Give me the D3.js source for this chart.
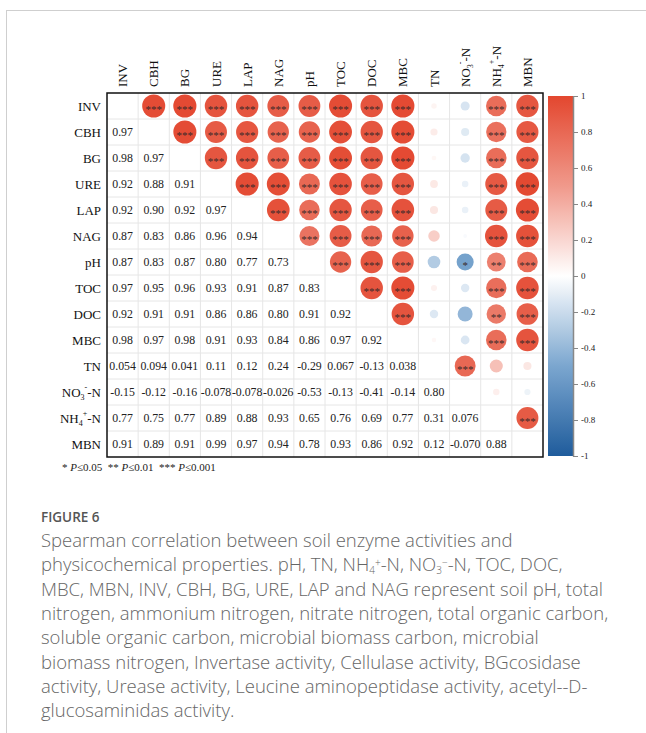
<!DOCTYPE html>
<html>
<head>
<meta charset="utf-8">
<script src="https://cdn.jsdelivr.net/npm/d3@7"></script>
<style>
  body { margin: 0; background: #fff; }
  svg { display: block; }
</style>
</head>
<body>
<svg id="chart" width="646" height="733"></svg>
<script>
// variable names (rows and columns of the matrix)
const vars = ["INV", "CBH", "BG", "URE", "LAP", "NAG", "pH", "TOC", "DOC", "MBC", "TN", "NO3-N", "NH4-N", "MBN"];

// lower triangle of the Spearman matrix, row i holds columns 0..i-1
const rhoRows = [
    [],
    [0.97],
    [0.98, 0.97],
    [0.92, 0.88, 0.91],
    [0.92, 0.90, 0.92, 0.97],
    [0.87, 0.83, 0.86, 0.96, 0.94],
    [0.87, 0.83, 0.87, 0.80, 0.77, 0.73],
    [0.97, 0.95, 0.96, 0.93, 0.91, 0.87, 0.83],
    [0.92, 0.91, 0.91, 0.86, 0.86, 0.80, 0.91, 0.92],
    [0.98, 0.97, 0.98, 0.91, 0.93, 0.84, 0.86, 0.97, 0.92],
    [0.054, 0.094, 0.041, 0.11, 0.12, 0.24, -0.29, 0.067, -0.13, 0.038],
    [-0.15, -0.12, -0.16, -0.078, -0.078, -0.026, -0.53, -0.13, -0.41, -0.14, 0.80],
    [0.77, 0.75, 0.77, 0.89, 0.88, 0.93, 0.65, 0.76, 0.69, 0.77, 0.31, 0.076],
    [0.91, 0.89, 0.91, 0.99, 0.97, 0.94, 0.78, 0.93, 0.86, 0.92, 0.12, -0.070, 0.88]
];

// significance marks, same shape as rhoRows (drawn in the upper triangle)
const sigRows = [
    [],
    ["***"],
    ["***", "***"],
    ["***", "***", "***"],
    ["***", "***", "***", "***"],
    ["***", "***", "***", "***", "***"],
    ["***", "***", "***", "***", "***", "***"],
    ["***", "***", "***", "***", "***", "***", "***"],
    ["***", "***", "***", "***", "***", "***", "***", "***"],
    ["***", "***", "***", "***", "***", "***", "***", "***", "***"],
    ["", "", "", "", "", "", "", "", "", ""],
    ["", "", "", "", "", "", "*", "", "", "", "***"],
    ["***", "***", "***", "***", "***", "***", "**", "***", "**", "***", "", ""],
    ["***", "***", "***", "***", "***", "***", "***", "***", "***", "***", "", "", "***"]
];

const colorTicks = [-1, -0.8, -0.6, -0.4, -0.2, 0, 0.2, 0.4, 0.6, 0.8, 1];

const captionLines = [
    "Spearman correlation between soil enzyme activities and",
    "physicochemical properties. pH, TN, NH{4}^{+}-N, NO{3}^{\u2212}-N, TOC, DOC,",
    "MBC, MBN, INV, CBH, BG, URE, LAP and NAG represent soil pH, total",
    "nitrogen, ammonium nitrogen, nitrate nitrogen, total organic carbon,",
    "soluble organic carbon, microbial biomass carbon, microbial",
    "biomass nitrogen, Invertase activity, Cellulase activity, BGcosidase",
    "activity, Urease activity, Leucine aminopeptidase activity, acetyl--D-",
    "glucosaminidas activity."
];

const svg = d3.select("#chart");

// page frame
svg.append("rect")
    .attr("x", 6.5).attr("y", 10.5)
    .attr("width", 700).attr("height", 800)
    .attr("fill", "none")
    .attr("stroke", "#cfcfcf");

const plotLeft = 107, plotTop = 93, plotRight = 543, plotBottom = 457;

const x = d3.scaleBand().domain(vars).range([plotLeft, plotRight]);
const y = d3.scaleBand().domain(vars).range([plotTop, plotBottom]);

const color = d3.scaleLinear()
    .domain([-1, -0.5, 0, 0.5, 1])
    .range(["#1f5c9c", "#7ba6cf", "#ffffff", "#f0998b", "#e3472f"]);

const rScale = d3.scaleSqrt().domain([0, 1]).range([0, y.bandwidth() * 0.45]);

const fmtLocale = d3.formatLocale({decimal: ".", thousands: ",", grouping: [3], currency: ["", ""], minus: "-"});
const fmt = fmtLocale.format(".2r");

// flatten into cells
const cells = [];
rhoRows.forEach((row, i) => {
    row.forEach((v, j) => {
        cells.push({row: vars[i], col: vars[j], v: v, sig: sigRows[i][j]});
    });
});

// grid
const grid = svg.append("g");
vars.forEach((d, i) => {
    if (i > 0) {
        grid.append("line")
            .attr("x1", x(d)).attr("x2", x(d))
            .attr("y1", plotTop).attr("y2", plotBottom)
            .attr("stroke", "#e6e6e6");
        grid.append("line")
            .attr("x1", plotLeft).attr("x2", plotRight)
            .attr("y1", y(d)).attr("y2", y(d))
            .attr("stroke", "#e6e6e6");
    }
});

// lower triangle: numbers
svg.append("g").selectAll("text")
    .data(cells)
    .join("text")
    .attr("x", d => x(d.col) + x.bandwidth() / 2)
    .attr("y", d => y(d.row) + y.bandwidth() / 2)
    .attr("dy", "0.35em")
    .attr("text-anchor", "middle")
    .attr("font-family", "Liberation Serif, Times New Roman, serif")
    .attr("font-size", 11.8)
    .attr("fill", "#222")
    .text(d => fmt(d.v));

// upper triangle: circles (mirror of the lower triangle)
const upper = svg.append("g");
upper.selectAll("circle")
    .data(cells)
    .join("circle")
    .attr("cx", d => x(d.row) + x.bandwidth() / 2)
    .attr("cy", d => y(d.col) + y.bandwidth() / 2)
    .attr("r", d => rScale(Math.abs(d.v)))
    .attr("fill", d => color(d.v));

upper.selectAll("text")
    .data(cells.filter(d => d.sig))
    .join("text")
    .attr("x", d => x(d.row) + x.bandwidth() / 2)
    .attr("y", d => y(d.col) + y.bandwidth() / 2)
    .attr("dy", "0.6em")
    .attr("text-anchor", "middle")
    .attr("font-family", "Liberation Serif, serif")
    .attr("font-size", 11)
    .attr("fill", "#3a2a2a")
    .text(d => d.sig);

// frame
svg.append("rect")
    .attr("x", plotLeft).attr("y", plotTop)
    .attr("width", plotRight - plotLeft).attr("height", plotBottom - plotTop)
    .attr("fill", "none")
    .attr("stroke", "#111")
    .attr("stroke-width", 1.5);

// label helper: {n} is subscript, ^{n} is superscript
function addRich(textSel, str, small, supUp, subDown) {
    const parts = str.split(/(\^\{[^}]*\}|\{[^}]*\})/).filter(s => s.length);
    let shift = 0;
    parts.forEach(p => {
        let dy = 0, txt = p, size = null;
        if (p.startsWith("^{")) {
            txt = p.slice(2, -1); dy = -supUp - shift; shift = -supUp; size = small;
        } else if (p.startsWith("{")) {
            txt = p.slice(1, -1); dy = subDown - shift; shift = subDown; size = small;
        } else {
            dy = -shift; shift = 0;
        }
        const t = textSel.append("tspan").attr("dy", dy).text(txt);
        if (size) t.attr("font-size", size);
    });
}

function richLabel(name) {
    if (name === "NO3-N") return "NO{3}^{-}-N";
    if (name === "NH4-N") return "NH{4}^{+}-N";
    return name;
}

// row labels
const rowLab = svg.append("g");
vars.forEach(d => {
    const t = rowLab.append("text")
        .attr("x", plotLeft - 6)
        .attr("y", y(d) + y.bandwidth() / 2 + 4.5)
        .attr("text-anchor", "end")
        .attr("font-family", "Liberation Serif, serif")
        .attr("font-size", 13)
        .attr("fill", "#111");
    addRich(t, richLabel(d), 8, 7, 3.5);
});

// column labels
const colLab = svg.append("g");
vars.forEach(d => {
    const cx = x(d) + x.bandwidth() / 2 + 4.5;
    const t = colLab.append("text")
        .attr("transform", `translate(${cx},${plotTop - 6}) rotate(-90)`)
        .attr("font-family", "Liberation Serif, serif")
        .attr("font-size", 13)
        .attr("fill", "#111");
    addRich(t, richLabel(d), 8, 7, 3.5);
});

// colour bar
const barX = 548, barW = 25, barTop = 96, barBottom = 456;
const cbScale = d3.scaleLinear().domain([-1, 1]).range([barBottom, barTop]);

const grad = svg.append("defs").append("linearGradient")
    .attr("id", "cbar")
    .attr("x1", 0).attr("y1", 1).attr("x2", 0).attr("y2", 0);
d3.range(-1, 1.0001, 0.05).forEach(v => {
    grad.append("stop")
        .attr("offset", (v + 1) / 2)
        .attr("stop-color", color(v));
});

svg.append("rect")
    .attr("x", barX).attr("y", barTop)
    .attr("width", barW).attr("height", barBottom - barTop)
    .attr("fill", "url(#cbar)");

const cbAxis = svg.append("g")
    .attr("transform", `translate(${barX + barW},0)`)
    .call(d3.axisRight(cbScale)
        .tickValues(colorTicks)
        .tickSize(5)
        .tickSizeOuter(0)
        .tickFormat(d => String(+d.toFixed(1))));
cbAxis.select(".domain").attr("stroke", "#888").attr("stroke-width", 1.5);
cbAxis.selectAll(".tick line").attr("stroke", "#888");
cbAxis.selectAll(".tick text")
    .attr("x", 8)
    .attr("font-family", "Liberation Serif, serif")
    .attr("font-size", 9)
    .attr("fill", "#222");

// significance note
const note = svg.append("text")
    .attr("x", 62).attr("y", 471)
    .attr("font-family", "Liberation Serif, serif")
    .attr("font-size", 11)
    .attr("fill", "#222")
    .attr("xml:space", "preserve");
[["* ", ""], ["P", "i"], ["\u22640.05  ** ", ""], ["P", "i"], ["\u22640.01  *** ", ""], ["P", "i"], ["\u22640.001", ""]]
    .forEach(([s, st]) => {
        const t = note.append("tspan").text(s);
        if (st) t.attr("font-style", "italic");
    });

// caption
svg.append("text")
    .attr("x", 41).attr("y", 522)
    .attr("font-family", "Open Sans, sans-serif")
    .attr("font-weight", 600)
    .attr("font-size", 13.5)
    .attr("fill", "#555")
    .text("FIGURE 6");

captionLines.forEach((line, i) => {
    const t = svg.append("text")
        .attr("x", 41)
        .attr("y", 547 + i * 24.3)
        .attr("font-family", "Open Sans, sans-serif")
        .attr("font-weight", 300)
        .attr("font-size", 18.5)
        .attr("fill", "#666");
    addRich(t, line, 10, 5, 3);
});
</script>
</body>
</html>
